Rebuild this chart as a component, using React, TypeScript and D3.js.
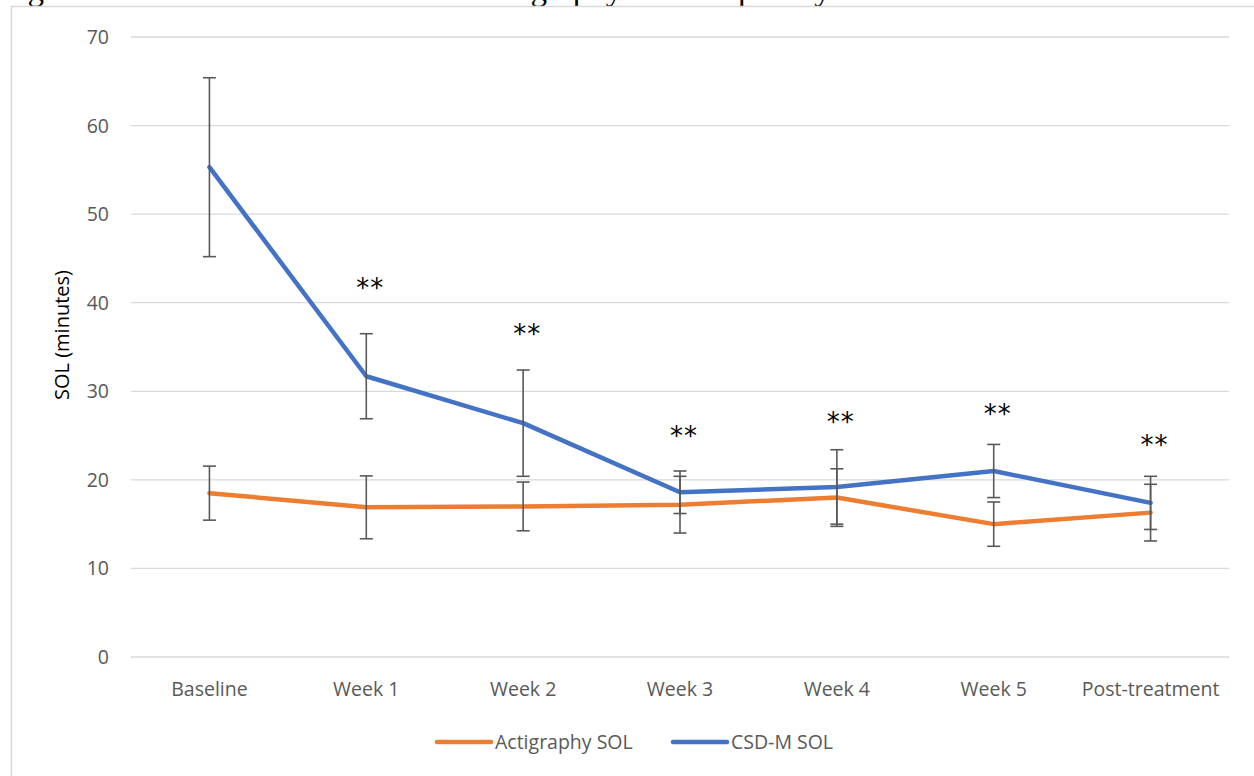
import React from "react";
import * as d3 from "d3";

const categories = ["Baseline", "Week 1", "Week 2", "Week 3", "Week 4", "Week 5", "Post-treatment"];
const actigraphySOL = [18.5, 16.9, 17.0, 17.2, 18.0, 15.0, 16.3];
const actigraphyErr = [3.05, 3.55, 2.75, 3.2, 3.25, 2.5, 3.2];
const csdmSOL = [55.3, 31.7, 26.4, 18.6, 19.2, 21.0, 17.4];
const csdmErr = [10.1, 4.8, 6.0, 2.4, 4.2, 3.0, 3.0];
const starMarks = ["", "**", "**", "**", "**", "**", "**"];
const starLevels = [0, 42.1, 36.9, 25.4, 27.0, 27.9, 24.4];
const yTicks = [0, 10, 20, 30, 40, 50, 60, 70];
const title = "Figure 1. Mean SOL measured with actigraphy and sleep diary across CBT-I sessions";

const W = 1254;
const H = 776;
const ORANGE = "#ED7D31";
const BLUE = "#4472C4";
const GREY = "#595959";
const FONT = "'Open Sans', sans-serif";

export default function App() {
  const x = d3.scaleBand<string>().domain(categories).range([131, 1229]);
  const cx = (c: string) => (x(c) as number) + x.bandwidth() / 2;
  const y = d3.scaleLinear().domain([0, 70]).range([657, 37]);
  const line = d3
    .line<number>()
    .x((_, i) => cx(categories[i]))
    .y((d) => y(d));

  const series = [
    { name: "Actigraphy SOL", values: actigraphySOL, err: actigraphyErr, color: ORANGE },
    { name: "CSD-M SOL", values: csdmSOL, err: csdmErr, color: BLUE },
  ];

  return (
    <svg
      width={W}
      height={H}
      style={{ position: "absolute", left: 0, top: 0, background: "#fff" }}
    >
      <text
        x={0}
        y={0}
        fontFamily="'Liberation Serif', 'Times New Roman', serif"
        fontSize={31}
        textLength={1130}
        lengthAdjust="spacingAndGlyphs"
        fill="#000"
      >
        {title}
      </text>
      <rect x={11.5} y={6.5} width={1400} height={900} fill="none" stroke="#d9d9d9" strokeWidth={1.5} />
      {yTicks.map((t) => (
        <g key={t}>
          <line x1={131} x2={1229} y1={y(t)} y2={y(t)} stroke="#d9d9d9" strokeWidth={1.3} />
          <text x={109} y={y(t)} dy="0.36em" textAnchor="end" fontFamily={FONT} fontSize={19.5} fill={GREY}>
            {t}
          </text>
        </g>
      ))}
      {categories.map((c) => (
        <text key={c} x={cx(c)} y={689} dy="0.36em" textAnchor="middle" fontFamily={FONT} fontSize={19.5} fill={GREY}>
          {c}
        </text>
      ))}
      <text
        transform={`translate(62, 335) rotate(-90)`}
        textAnchor="middle"
        dy="0.36em"
        fontFamily={FONT}
        fontSize={20}
        fill="#000"
      >
        SOL (minutes)
      </text>
      {series.map((s) => (
        <path
          key={s.name}
          d={line(s.values) || ""}
          fill="none"
          stroke={s.color}
          strokeWidth={4.5}
          strokeLinejoin="round"
          strokeLinecap="round"
        />
      ))}
      {series.map((s) =>
        s.values.map((v, i) => {
          const px = cx(categories[i]);
          const top = y(v + s.err[i]);
          const bot = y(v - s.err[i]);
          return (
            <g key={s.name + i} stroke={GREY} strokeWidth={1.6}>
              <line x1={px} x2={px} y1={top} y2={bot} />
              <line x1={px - 6.5} x2={px + 6.5} y1={top} y2={top} />
              <line x1={px - 6.5} x2={px + 6.5} y1={bot} y2={bot} />
            </g>
          );
        })
      )}
      {starMarks.map((m, i) =>
        m ? (
          <text
            key={"s" + i}
            x={cx(categories[i]) + 4}
            y={y(starLevels[i])}
            dy="0.5em"
            textAnchor="middle"
            fontFamily="'DejaVu Sans', sans-serif"
            fontSize={26}
            letterSpacing={1}
            fill="#000"
          >
            {m}
          </text>
        ) : null
      )}
      {series.map((s, i) => {
        const lx = i === 0 ? 437 : 673;
        return (
          <g key={"lg" + s.name}>
            <line x1={lx} x2={lx + 54} y1={742} y2={742} stroke={s.color} strokeWidth={4.5} strokeLinecap="round" />
            <text x={lx + 58} y={742} dy="0.36em" fontFamily={FONT} fontSize={19.5} fill={GREY}>
              {s.name}
            </text>
          </g>
        );
      })}
    </svg>
  );
}
